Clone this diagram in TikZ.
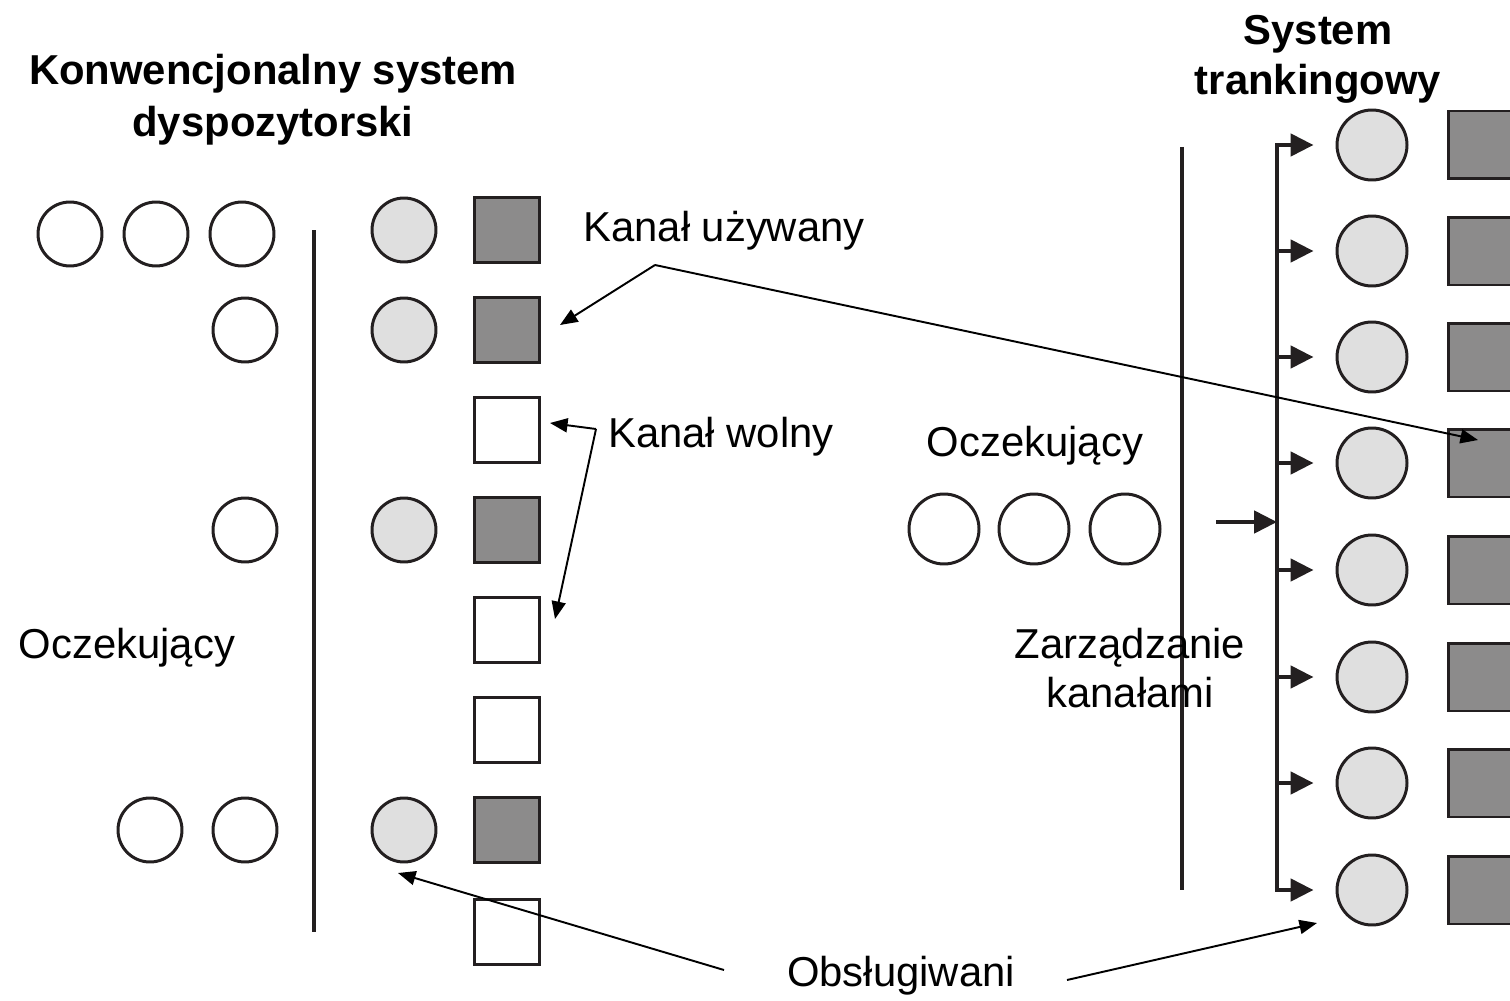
\documentclass[tikz,border=0pt]{standalone}
\usepackage{fontspec}
\setmainfont{Liberation Sans}
\usetikzlibrary{arrows.meta}
\definecolor{ink}{HTML}{231F20}
\definecolor{chanbusy}{HTML}{8C8B8B}
\definecolor{userlit}{HTML}{DFDFDF}

\begin{document}
\begin{tikzpicture}[x=0.02cm,y=-0.02cm,
  waitL/.style={circle,draw=ink,line width=1.7pt,fill=white,minimum size=1.28cm,inner sep=0pt},
  servedL/.style={waitL,fill=userlit},
  waitR/.style={waitL,minimum size=1.4cm},
  servedR/.style={waitR,fill=userlit},
  busyL/.style={rectangle,draw=ink,line width=1.7pt,fill=chanbusy,minimum size=1.3cm,inner sep=0pt},
  freeL/.style={busyL,fill=white},
  busyR/.style={busyL,minimum size=1.36cm},
  divider/.style={draw=ink,line width=2.5pt},
  pointer/.style={draw=black,line width=1.1pt,-{Triangle[length=10pt,width=8pt]}},
  feed/.style={draw=ink,line width=2.5pt,-{Triangle[length=13pt,width=12.5pt]}},
  lbl/.style={font=\fontsize{23.8}{28.4}\selectfont,inner sep=0pt,align=center},
  ttl/.style={lbl,font=\fontsize{23.8}{29.5}\selectfont\bfseries},
]
\useasboundingbox (0,0) rectangle (1510,1000);
\clip (0,0) rectangle (1510,1000);

% ---------- conventional dispatch system ----------
\node[ttl] (titleL) at (273,100) {Konwencjonalny system\\dyspozytorski};

% waiting users
\node[waitL] (w1a) at (70,234) {};
\node[waitL] (w1b) at (156,234) {};
\node[waitL] (w1c) at (242,234) {};
\node[waitL] (w2a) at (245,330) {};
\node[waitL] (w4a) at (245,530) {};
\node[waitL] (w7a) at (150,830) {};
\node[waitL] (w7b) at (245,830) {};

% divider
\coordinate (dLt) at (314,230);
\coordinate (dLb) at (314,932);
\draw[divider] (dLt) -- (dLb);

% served users
\node[servedL] (s1) at (404,230) {};
\node[servedL] (s2) at (404,330) {};
\node[servedL] (s4) at (404,530) {};
\node[servedL] (s7) at (404,830) {};

% channels
\node[busyL] (c1) at (507,230) {};
\node[busyL] (c2) at (507,330) {};
\node[freeL] (c3) at (507,430) {};
\node[busyL] (c4) at (507,530) {};
\node[freeL] (c5) at (507,630) {};
\node[freeL] (c6) at (507,730) {};
\node[busyL] (c7) at (507,830) {};
\node[freeL] (c8) at (507,932) {};

\node[lbl] (waitLbl) at (127,648) {Oczekujący};

% ---------- trunking system ----------
\node[ttl,font=\fontsize{23.8}{28.4}\selectfont\bfseries] (titleR) at (1318,59) {System\\trankingowy};

\coordinate (dRt) at (1182,147);
\coordinate (dRb) at (1182,890);
\draw[divider] (dRt) -- (dRb);

% waiting queue
\node[lbl] (queueLbl) at (1035,446) {Oczekujący};
\node[waitR] (q1) at (944,529) {};
\node[waitR] (q2) at (1034,529) {};
\node[waitR] (q3) at (1125,529) {};

\node[lbl] (mgmtLbl) at (1130,668) {Zarządzanie\\kanałami};

% channel bus
\coordinate (busTop) at (1277,145);
\coordinate (busBot) at (1277,890);
\coordinate (busIn) at (1277,522);
\coordinate (feedSrc) at (1216,522);
\draw[divider,line cap=rect] (busTop) -- (busBot);
\draw[feed] (feedSrc) -- (busIn);

\foreach \i/\y in {1/145,2/251,3/357,4/463,5/570,6/677,7/783,8/890}{
  \node[servedR] (r\i) at (1372,\y) {};
  \node[busyR] (k\i) at (1482,\y) {};
  \coordinate (b\i) at (1277,\y);
  \draw[feed,shorten >=0.44cm] (b\i) -- (r\i.west);
}

% ---------- annotations ----------
\node[lbl] (usedLbl) at (724,231) {Kanał używany};
\coordinate (usedJ) at (655,265);
\coordinate (usedTipL) at (560,325);
\coordinate (usedTipR) at (1478,440);
\draw[pointer] (usedJ) -- (usedTipL);
\draw[pointer] (usedJ) -- (usedTipR);

\node[lbl] (freeLbl) at (721,437) {Kanał wolny};
\coordinate (freeJ) at (596,429);
\coordinate (freeTip1) at (550,423);
\coordinate (freeTip2) at (555,619);
\draw[pointer] (freeJ) -- (freeTip1);
\draw[pointer] (freeJ) -- (freeTip2);

\node[lbl] (servLbl) at (901,976) {Obsługiwani};
\coordinate (servJL) at (724,970);
\coordinate (servJR) at (1067,980);
\coordinate (servTipL) at (398,873);
\coordinate (servTipR) at (1317,923);
\draw[pointer] (servJL) -- (servTipL);
\draw[pointer] (servJR) -- (servTipR);
\end{tikzpicture}
\end{document}
